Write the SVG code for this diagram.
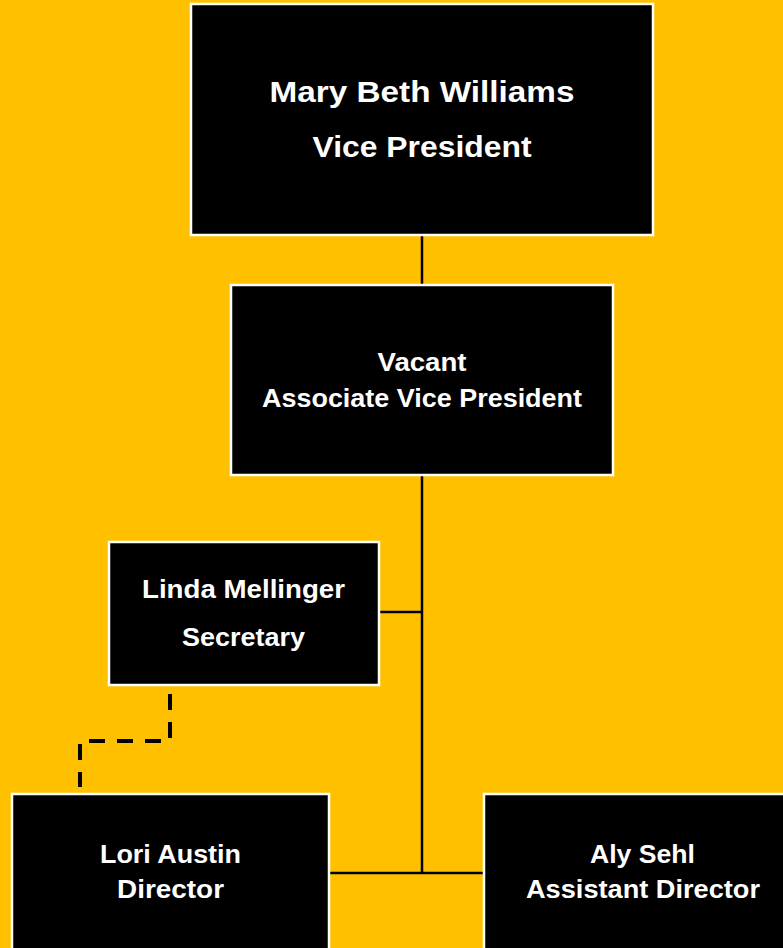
<svg xmlns="http://www.w3.org/2000/svg" width="783" height="948" viewBox="0 0 783 948">
<style>
.box{fill:#000;stroke:#fff;stroke-width:2.5}
.t{fill:#fff;font-family:"Liberation Sans",Arial,sans-serif;font-weight:bold;text-anchor:middle}
.big{font-size:30px}
.sm{font-size:26px}
.ln{stroke:#000;stroke-width:2.5;fill:none}
.dash{stroke:#000;stroke-width:4;fill:none;stroke-dasharray:16 12}
</style>
<rect width="783" height="948" fill="#FFC000"/>
<g id="connectors">
<line class="ln" x1="422" y1="236" x2="422" y2="285"/>
<line class="ln" x1="422" y1="476" x2="422" y2="873"/>
<line class="ln" x1="379" y1="612" x2="422" y2="612"/>
<line class="ln" x1="329" y1="873" x2="484" y2="873"/>
<path class="dash" d="M170,694 V741 H80 V787"/>
</g>
<g id="vp">
<rect class="box" x="191" y="4" width="462" height="231"/>
<text class="t big" x="422" y="102" textLength="305" lengthAdjust="spacingAndGlyphs">Mary Beth Williams</text>
<text class="t big" x="422" y="157" textLength="219" lengthAdjust="spacingAndGlyphs">Vice President</text>
</g>
<g id="avp">
<rect class="box" x="231" y="285" width="382" height="190"/>
<text class="t sm" x="422" y="371" textLength="89" lengthAdjust="spacingAndGlyphs">Vacant</text>
<text class="t sm" x="422" y="407" textLength="320" lengthAdjust="spacingAndGlyphs">Associate Vice President</text>
</g>
<g id="secretary">
<rect class="box" x="109" y="542" width="270" height="143"/>
<text class="t sm" x="243.5" y="598" textLength="203" lengthAdjust="spacingAndGlyphs">Linda Mellinger</text>
<text class="t sm" x="243.5" y="646" textLength="123" lengthAdjust="spacingAndGlyphs">Secretary</text>
</g>
<g id="director">
<rect class="box" x="12" y="794" width="317" height="170"/>
<text class="t sm" x="170.5" y="863" textLength="141" lengthAdjust="spacingAndGlyphs">Lori Austin</text>
<text class="t sm" x="170.5" y="898" textLength="107" lengthAdjust="spacingAndGlyphs">Director</text>
</g>
<g id="assistant">
<rect class="box" x="484" y="794" width="320" height="170"/>
<text class="t sm" x="642.5" y="863" textLength="105" lengthAdjust="spacingAndGlyphs">Aly Sehl</text>
<text class="t sm" x="643" y="898" textLength="234" lengthAdjust="spacingAndGlyphs">Assistant Director</text>
</g>
</svg>
